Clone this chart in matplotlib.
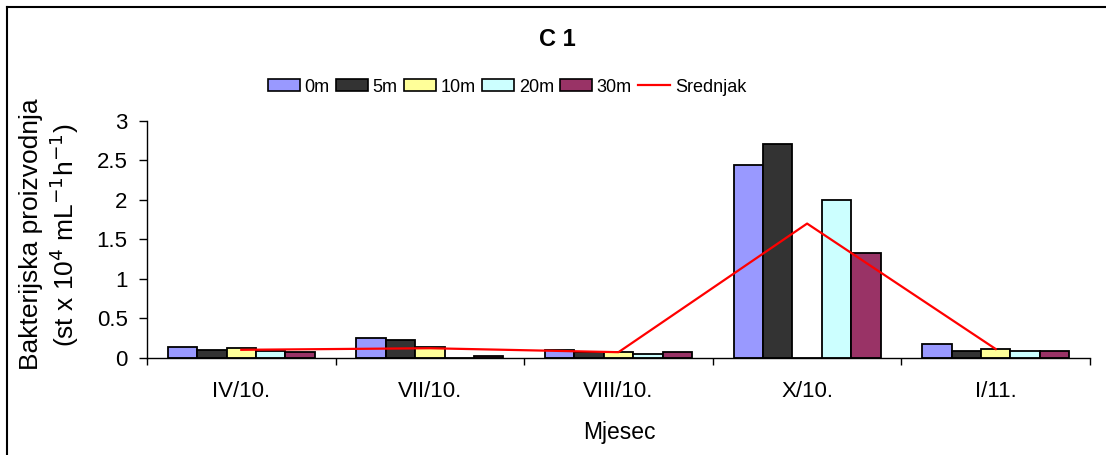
import matplotlib
matplotlib.use("Agg")
import matplotlib.pyplot as plt
from matplotlib.patches import Patch
from matplotlib.lines import Line2D
import numpy as np

plt.rcParams['font.family'] = ['Liberation Sans', 'DejaVu Sans']

months = ["IV/10.", "VII/10.", "VIII/10.", "X/10.", "I/11."]
depths = ["0m", "5m", "10m", "20m", "30m"]
v_0m = [0.14, 0.25, 0.10, 2.44, 0.17]
v_5m = [0.10, 0.23, 0.075, 2.71, 0.09]
v_10m = [0.12, 0.13, 0.07, 0.0, 0.115]
v_20m = [0.09, 0.0, 0.05, 2.00, 0.085]
v_30m = [0.07, 0.02, 0.075, 1.33, 0.09]
srednjak = [0.10, 0.12, 0.07, 1.70, 0.11]
yticks = [0, 0.5, 1, 1.5, 2, 2.5, 3]
ytick_labels = ["0", "0.5", "1", "1.5", "2", "2.5", "3"]

series = [v_0m, v_5m, v_10m, v_20m, v_30m]
colors = ["#9999FF", "#333333", "#FFFF99", "#CCFFFF", "#993366"]

fig = plt.figure(figsize=(11.06, 4.55), dpi=100)
ax = fig.add_axes([147/1106, 1-357.7/455, (1090-147)/1106, (357.7-121)/455])

x = np.arange(len(months))
w = 0.156
for i, (vals, c) in enumerate(zip(series, colors)):
    ax.bar(x + (i-2)*w, vals, width=w, color=c, edgecolor="black", linewidth=1.3, zorder=2)
ax.plot(x, srednjak, color="#FF0000", linewidth=1.6, zorder=3)

ax.set_xlim(-0.5, len(months)-0.5)
ax.set_ylim(0, 3)
ax.set_yticks(yticks)
ax.set_yticklabels(ytick_labels, fontsize=16)
ax.set_xticks(x)
ax.set_xticklabels(months, fontsize=16)
ax.set_xticks(np.arange(-0.5, len(months)), minor=True)
ax.tick_params(axis='x', which='major', length=0, pad=17)
ax.tick_params(axis='x', which='minor', length=5, width=1, color="#000000", direction='out')
ax.tick_params(axis='y', length=6, width=1, direction='out', pad=8)
for s in ["top", "right"]:
    ax.spines[s].set_visible(False)
for s in ["left", "bottom"]:
    ax.spines[s].set_color("#000000")
    ax.spines[s].set_linewidth(1)

fig.text(619/1106, 1-433/455, "Mjesec", fontsize=16.5, ha="center", va="center")

fig.text(31/1106, 1-234/455, "Bakterijska proizvodnja", rotation=90, fontsize=19,
         ha="center", va="center")
fig.text(64/1106, 1-235/455, r"(st x 10$^{4}$ mL$^{-1}$h$^{-1}$)", rotation=90, fontsize=19,
         ha="center", va="center")

fig.text(557/1106, 1-40/455, "C 1", fontsize=17, fontweight="bold", ha="center", va="center")

handles = [Patch(facecolor=c, edgecolor="black", linewidth=1.2) for c in colors]
handles.append(Line2D([0], [0], color="#FF0000", linewidth=1.6))
labels = depths + ["Srednjak"]
fig.legend(handles, labels, loc="center", bbox_to_anchor=(507/1106, 1-87/455), ncol=6,
           frameon=False, fontsize=13,
           handlelength=1.78, handleheight=0.67,
           handletextpad=0.25, columnspacing=0.35, borderaxespad=0)

fig.add_artist(Line2D([7/1106, 7/1106], [0, 1-7/455], color="black", linewidth=1.5,
                      transform=fig.transFigure))
fig.add_artist(Line2D([7/1106, 1], [1-7/455, 1-7/455], color="black", linewidth=1.5,
                      transform=fig.transFigure))

fig.savefig("out.png", dpi=100)
